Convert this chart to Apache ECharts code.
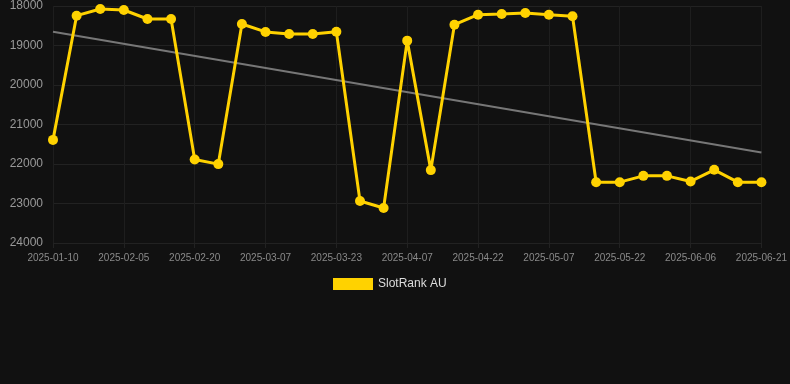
<!DOCTYPE html>
<html>
<head>
<meta charset="utf-8">
<script src="https://cdn.jsdelivr.net/npm/echarts@6/dist/echarts.min.js"></script>
<style>
  html, body { margin: 0; padding: 0; background: #111111; }
  #chart { width: 790px; height: 384px; }
</style>
</head>
<body>
<div id="chart"></div>
<script>
const dates = [
  '2025-01-10', '2025-01-19', '2025-01-27', '2025-02-05', '2025-02-10', '2025-02-15',
  '2025-02-20', '2025-02-25', '2025-03-02', '2025-03-07', '2025-03-12', '2025-03-17',
  '2025-03-23', '2025-03-28', '2025-04-02', '2025-04-07', '2025-04-12', '2025-04-17',
  '2025-04-22', '2025-04-27', '2025-05-02', '2025-05-07', '2025-05-12', '2025-05-17',
  '2025-05-22', '2025-05-27', '2025-06-01', '2025-06-06', '2025-06-11', '2025-06-16',
  '2025-06-21'
]
const ranks = [
  21390, 18245, 18076, 18101, 18329, 18329,
  21886, 22003, 18455, 18657, 18708, 18708,
  18650, 22938, 23115, 18877, 22155, 18473,
  18220, 18202, 18177, 18220, 18260, 22460,
  22460, 22300, 22300, 22442, 22147, 22460,
  22460
]
const trendStart = 18650
const trendEnd = 21709
const yTicks = [18000, 19000, 20000, 21000, 22000, 23000, 24000]

const chart = echarts.init(document.getElementById('chart'))
chart.setOption({
  backgroundColor: '#111111',
  animation: false,
  grid: { left: 53, right: 28, top: 6, bottom: 141 },
  legend: {
    top: 278,
    left: 333,
    itemWidth: 40,
    itemHeight: 12,
    itemGap: 10,
    padding: 0,
    data: [{ name: 'SlotRank AU', icon: 'rect' }],
    textStyle: { color: '#dddddd', fontSize: 12, fontFamily: 'Liberation Sans, Arial, sans-serif' }
  },
  xAxis: {
    type: 'category',
    data: dates,
    boundaryGap: false,
    axisLine: { show: false },
    axisTick: { show: true, interval: 2, length: 5, lineStyle: { color: '#222222' } },
    axisLabel: {
      interval: 2,
      color: '#8a8a8a',
      fontSize: 10,
      margin: 10,
      fontFamily: 'Liberation Sans, Arial, sans-serif'
    },
    splitLine: { show: true, interval: 2, lineStyle: { color: '#1e1e1e', width: 1 } }
  },
  yAxis: {
    type: 'value',
    inverse: true,
    min: yTicks[0],
    max: yTicks[yTicks.length - 1],
    interval: 1000,
    axisLine: { show: false },
    axisTick: { show: false },
    axisLabel: {
      color: '#9a9a9a',
      fontSize: 12,
      margin: 10,
      formatter: (v) => String(v),
      fontFamily: 'Liberation Sans, Arial, sans-serif'
    },
    splitLine: { lineStyle: { color: '#222222', width: 1 } }
  },
  series: [
    {
      name: 'SlotRank AU',
      type: 'line',
      data: ranks,
      symbol: 'circle',
      symbolSize: 10,
      lineStyle: { color: '#ffd200', width: 3 },
      itemStyle: { color: '#ffd200' },
      z: 3
    },
    {
      name: 'trend',
      type: 'line',
      data: [[dates[0], trendStart], [dates[dates.length - 1], trendEnd]],
      symbol: 'none',
      lineStyle: { color: '#777777', width: 2 },
      silent: true,
      z: 2
    }
  ]
})
</script>
</body>
</html>
